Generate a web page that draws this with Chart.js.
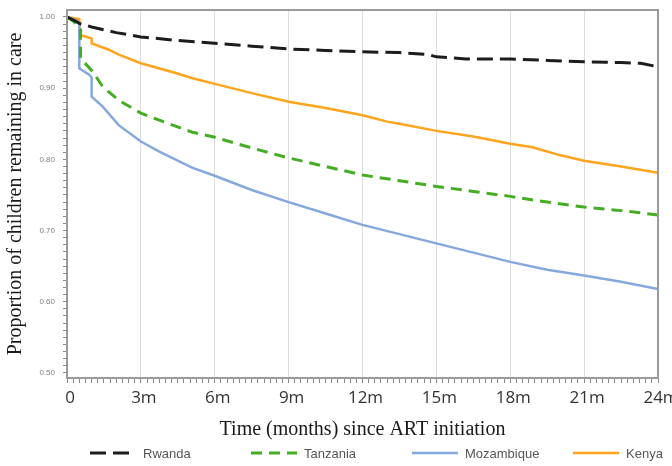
<!DOCTYPE html>
<html>
<head>
<meta charset="utf-8">
<script src="https://cdn.jsdelivr.net/npm/chart.js@4.4.1/dist/chart.umd.min.js"></script>
<style>
  html, body { margin: 0; padding: 0; background: #fff; }
  #wrap { width: 672px; height: 466px; position: relative; }
</style>
</head>
<body>
<div id="wrap"><canvas id="kmChart"></canvas></div>
<script>
// Kaplan-Meier retention curves
const seriesNames = ['Rwanda', 'Tanzania', 'Mozambique', 'Kenya'];

const rwandaMonths = [0, 0.3, 0.5, 1, 2, 3, 4.5, 6, 7.5, 9, 10.5, 12, 13.5, 14.7, 15, 16.2, 18, 19.5, 21, 22.5, 23.3, 24];
const rwandaSurv   = [1.0, 0.995, 0.991, 0.986, 0.978, 0.972, 0.967, 0.963, 0.959, 0.955, 0.953, 0.951, 0.950, 0.947, 0.944, 0.941, 0.941, 0.939, 0.937, 0.936, 0.935, 0.930];

const tanzaniaMonths = [0, 0.1, 0.3, 0.45, 0.55, 0.55, 1.05, 1.45, 2.1, 3, 3.75, 5.1, 6, 7.5, 9, 10.5, 12, 13.5, 15, 16.5, 18, 19.5, 21, 22.5, 24];
const tanzaniaSurv   = [1.0, 0.998, 0.993, 0.985, 0.982, 0.942, 0.923, 0.902, 0.883, 0.865, 0.855, 0.838, 0.831, 0.816, 0.802, 0.790, 0.778, 0.770, 0.762, 0.755, 0.748, 0.740, 0.733, 0.728, 0.722];

const mozambiqueMonths = [0, 0.4, 0.5, 0.5, 0.9, 1.0, 1.0, 1.45, 2.1, 3, 3.75, 5.1, 6, 7.5, 9, 10.5, 12, 13.5, 15, 16.5, 18, 19.5, 21, 22.5, 24];
const mozambiqueSurv   = [1.0, 0.995, 0.99, 0.928, 0.919, 0.915, 0.888, 0.874, 0.848, 0.825, 0.811, 0.788, 0.777, 0.757, 0.740, 0.724, 0.708, 0.695, 0.682, 0.669, 0.656, 0.645, 0.637, 0.628, 0.618];

const kenyaMonths = [0, 0.5, 0.5, 1.0, 1.0, 1.7, 2.1, 3, 4.45, 5.1, 6, 7.5, 9, 10.5, 12, 13, 13.5, 15, 16.5, 18, 18.9, 20, 21, 22.5, 24];
const kenyaSurv   = [1.0, 0.997, 0.975, 0.970, 0.963, 0.954, 0.947, 0.935, 0.921, 0.914, 0.906, 0.893, 0.881, 0.872, 0.862, 0.853, 0.850, 0.840, 0.832, 0.822, 0.817, 0.806, 0.798, 0.790, 0.781];

const xMajorTicks = [0, 3, 6, 9, 12, 15, 18, 21, 24];
const yMajorTicks = [0.5, 0.6, 0.7, 0.8, 0.9, 1.0];

function toPoints(months, surv) {
    return months.map((m, i) => ({ x: m, y: surv[i] }));
}
const isMajorX = v => xMajorTicks.some(t => Math.abs(t - v) < 1e-6);
const isMajorY = v => yMajorTicks.some(t => Math.abs(t - v) < 1e-6);

// top + right frame of the plot box
const framePlugin = {
    id: 'frame',
    afterDraw(chart) {
        const { ctx, chartArea: a } = chart;
        ctx.save();
        ctx.strokeStyle = '#9a9a9a';
        ctx.lineWidth = 2;
        ctx.strokeRect(a.left, a.top, a.right - a.left, a.bottom - a.top);
        ctx.restore();
    }
};

// legend laid out on fixed columns under the axis title
const legendPlugin = {
    id: 'bottomLegend',
    afterDraw(chart) {
        const ctx = chart.ctx;
        const y = 453;
        ctx.save();
        ctx.font = '13px "Liberation Sans", Arial, sans-serif';
        ctx.textBaseline = 'middle';
        chart.data.datasets.forEach((ds, i) => {
            const x0 = 90 + i * 161;
            ctx.strokeStyle = ds.borderColor;
            ctx.lineWidth = ds.borderWidth;
            ctx.setLineDash(ds.borderDash || []);
            ctx.beginPath();
            ctx.moveTo(x0, y);
            ctx.lineTo(x0 + 46, y);
            ctx.stroke();
            ctx.setLineDash([]);
            ctx.fillStyle = '#555';
            ctx.fillText(ds.label, x0 + 53, y + 1);
        });
        ctx.restore();
    }
};

new Chart(document.getElementById('kmChart').getContext('2d'), {
    type: 'line',
    data: {
        datasets: [
            {
                label: seriesNames[0],
                data: toPoints(rwandaMonths, rwandaSurv),
                borderColor: '#1c1c1c',
                borderWidth: 3,
                borderDash: [16, 7]
            },
            {
                label: seriesNames[1],
                data: toPoints(tanzaniaMonths, tanzaniaSurv),
                borderColor: '#45ad23',
                borderWidth: 3,
                borderDash: [11, 7]
            },
            {
                label: seriesNames[2],
                data: toPoints(mozambiqueMonths, mozambiqueSurv),
                borderColor: '#85a8de',
                borderWidth: 2.5
            },
            {
                label: seriesNames[3],
                data: toPoints(kenyaMonths, kenyaSurv),
                borderColor: '#ffa41c',
                borderWidth: 2.5
            }
        ]
    },
    options: {
        responsive: true,
        maintainAspectRatio: false,
        animation: false,
        elements: { point: { radius: 0 }, line: { tension: 0 } },
        layout: { padding: { top: 10, right: 14, bottom: 20, left: 0 } },
        plugins: {
            legend: { display: false },
            tooltip: { enabled: false }
        },
        scales: {
            x: {
                type: 'linear',
                min: 0,
                max: 24,
                afterBuildTicks: axis => {
                    const t = [];
                    for (let i = 0; i <= 96; i++) t.push({ value: i / 4 });
                    axis.ticks = t;
                },
                afterFit: s => { s.height = 68; s.paddingLeft = 0; s.paddingRight = 0; },
                ticks: {
                    autoSkip: false,
                    maxRotation: 0,
                    padding: 5,
                    labelOffset: 3,
                    color: '#333',
                    font: { family: '"Open Sans", sans-serif', size: 17 },
                    callback: v => isMajorX(v) ? (v === 0 ? '0' : Math.round(v) + 'm') : ''
                },
                grid: {
                    color: c => (c.tick && isMajorX(c.tick.value)) ? '#dedede' : 'rgba(0,0,0,0)',
                    tickColor: '#8a8a8a',
                    tickLength: 5,
                    lineWidth: 1
                },
                border: { color: '#9a9a9a', width: 2 },
                title: {
                    display: true,
                    text: 'Time (months) since ART initiation',
                    color: '#1a1a1a',
                    font: { family: '"Liberation Serif", "Times New Roman", serif', size: 20, lineHeight: 1.2 },
                    padding: { top: 2, bottom: 4 }
                }
            },
            y: {
                type: 'linear',
                min: 0.4929,
                max: 1.0098,
                afterBuildTicks: axis => {
                    const t = [];
                    for (let i = 50; i <= 100; i++) t.push({ value: i / 100 });
                    axis.ticks = t;
                },
                afterFit: s => { s.width = 67; s.paddingTop = 0; s.paddingBottom = 0; },
                ticks: {
                    autoSkip: false,
                    padding: 8,
                    color: '#808080',
                    font: { family: '"Liberation Sans", Arial, sans-serif', size: 8 },
                    callback: v => isMajorY(v) ? v.toFixed(2) : ''
                },
                grid: {
                    drawOnChartArea: false,
                    tickColor: '#8a8a8a',
                    tickLength: 4
                },
                border: { color: '#9a9a9a', width: 2 },
                title: {
                    display: true,
                    text: 'Proportion of children remaining in care',
                    color: '#1a1a1a',
                    font: { family: '"Liberation Serif", "Times New Roman", serif', size: 20, lineHeight: 1.2 },
                    padding: { top: 4, bottom: 2 }
                }
            }
        }
    },
    plugins: [framePlugin, legendPlugin]
});
</script>
</body>
</html>
